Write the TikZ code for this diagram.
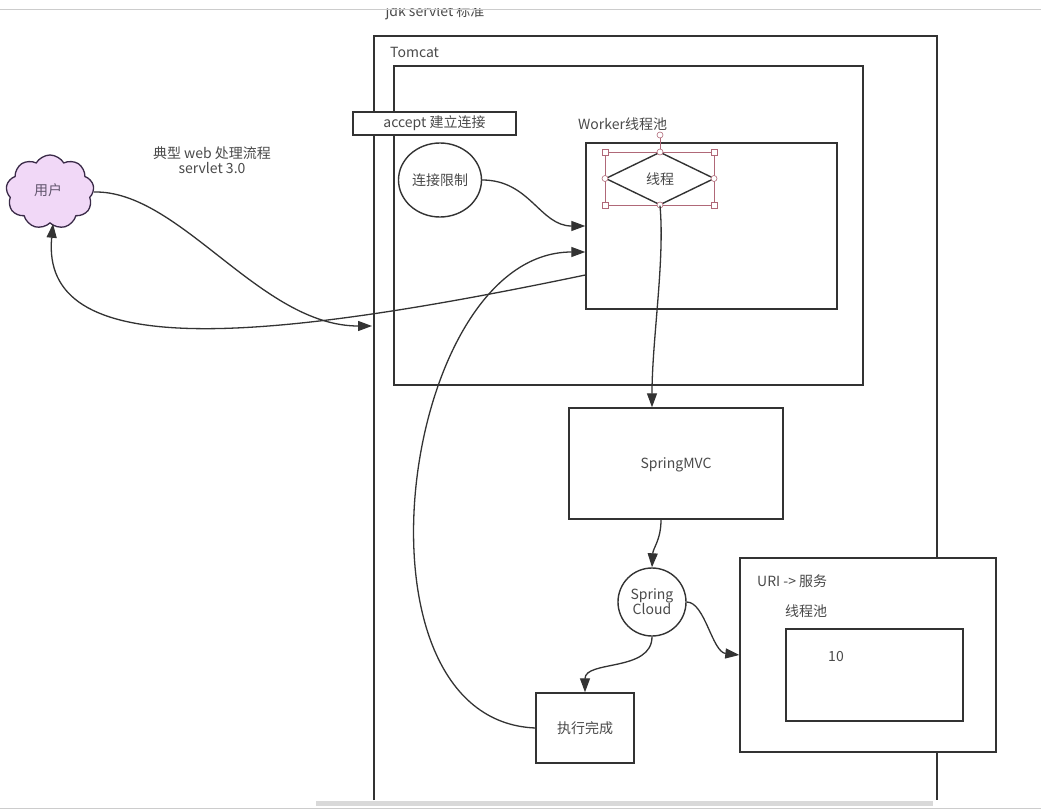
\documentclass[tikz,border=0pt]{standalone}
\usepackage{fontspec}
\setmainfont{Noto Sans CJK SC}
\usetikzlibrary{shapes.geometric,shapes.symbols,arrows.meta}
\definecolor{ln}{HTML}{333333}
\definecolor{tx}{HTML}{4A4A4A}
\definecolor{usr}{HTML}{F1D8F7}
\definecolor{usrb}{HTML}{3A2A48}
\definecolor{sel}{HTML}{B06878}
\tikzset{
  box/.style={draw=ln,line width=1.4pt,fill=white,inner sep=0pt},
  lbl/.style={text=tx,font=\fontsize{14}{16}\selectfont,inner sep=0pt},
  conn/.style={draw=ln,line width=1.3pt,-{Triangle[length=14pt,width=10pt]}},
  plain/.style={draw=ln,line width=1.3pt},
  handle/.style={draw=sel,line width=0.6pt,fill=white}
}
\begin{document}
\begin{tikzpicture}[x=1pt,y=-1pt]
\useasboundingbox (0,0) rectangle (1041,810);
\fill[white] (0,0) rectangle (1041,810);
% top label (partly hidden under toolbar)
\node[lbl,anchor=center] (jdk) at (435,12) {jdk servlet 标准};
\fill[white] (0,0) rectangle (1041,8);
\draw[gray!40,line width=0.8pt] (0,9) -- (1041,9);
% outer jdk servlet frame
\draw[plain] (374,800) -- (374,36) -- (937,36) -- (937,800);
\coordinate (outerL) at (374,326);
\node[lbl,anchor=west] (tomcatlbl) at (390,52) {Tomcat};
% Tomcat box
\node[box,minimum width=469pt,minimum height=319pt] (tomcat) at (628.5,225.5) {};
\node[box,minimum width=163pt,minimum height=23pt] (accept) at (434.5,123.5) {};
\node[lbl] (acceptt) at (434.5,123.5) {accept 建立连接};
\node[draw=ln,line width=1.4pt,ellipse,minimum width=83pt,minimum height=74pt,inner sep=0pt] (limit) at (440,180) {};
\node[lbl] at (440,180) {连接限制};
\node[lbl,anchor=west] (workerlbl) at (578,124) {Worker线程池};
\node[box,minimum width=251pt,minimum height=166pt] (worker) at (711.5,226) {};
% selection frame around diamond
\draw[sel,line width=0.6pt] (605,152) rectangle (714,205);
\draw[sel,line width=0.6pt] (660,135) -- (660,152);
\node[draw=ln,line width=1.4pt,diamond,aspect=2,minimum width=109pt,minimum height=53pt,inner sep=0pt] (thread) at (660,178.5) {};
\node[lbl] at (660,179) {线程};
\foreach \p in {(605,152),(714,152),(605,205),(714,205)}
  \node[handle,rectangle,minimum size=6pt,inner sep=0pt] at \p {};
\foreach \p in {(605,178.5),(714,178.5),(660,152),(660,205),(660,135)}
  \node[handle,circle,minimum size=6pt,inner sep=0pt] at \p {};
% Spring MVC
\node[box,minimum width=214pt,minimum height=111pt] (mvc) at (676,463.5) {};
\node[lbl] at (676,465) {SpringMVC};
% Spring Cloud
\node[draw=ln,line width=1.4pt,circle,minimum size=68pt,inner sep=0pt,fill=white] (cloud) at (652,602) {};
\node[lbl,align=center,font=\fontsize{14}{15}\selectfont] at (652,602) {Spring\\Cloud};
% done
\node[box,minimum width=98pt,minimum height=70pt] (done) at (585,728) {};
\node[lbl] at (585,728) {执行完成};
% URI box
\node[box,minimum width=256pt,minimum height=194pt] (uri) at (868,655) {};
\node[lbl,anchor=west] at (757,581) {URI -> 服务};
\node[lbl,anchor=west] at (785,611) {线程池};
\node[box,minimum width=177pt,minimum height=92pt] (pool) at (874.5,675) {};
\node[lbl] at (836,657) {10};
% user
\node[cloud,cloud puffs=9,cloud puff arc=120,aspect=1.2,draw=usrb,line width=1.3pt,fill=usr,minimum width=88pt,minimum height=74pt,inner sep=0pt] (user) at (50,192) {};
\node[lbl,text=usrb!80] at (48,190) {用户};
\node[lbl,align=center,font=\fontsize{14}{15}\selectfont] (title) at (212,160) {典型 web 处理流程\\servlet 3.0};
% connectors
\draw[conn] (user.east) .. controls (180,190) and (260,326) .. ([xshift=-2pt]outerL);
\draw[conn] ([yshift=-49pt]worker.west) .. controls (250,345) and (40,360) .. ([xshift=3pt]user.south);
\draw[conn] (limit.east) .. controls (530,180) and (540,226) .. (worker.west);
\draw[conn] (done.west) .. controls (340,720) and (400,252) .. ([yshift=-26pt]worker.west);
\draw[conn] (thread.south) .. controls (665,260) and (652,340) .. ([xshift=-24pt]mvc.north);
\draw[conn] ([xshift=-15pt]mvc.south) .. controls (661,540) and (653,548) .. (cloud.north);
\draw[conn] (cloud.east) .. controls (705,602) and (712,652) .. (uri.west);
\draw[conn] (cloud.south) .. controls (652,672) and (585,660) .. (done.north);
% bottom scrollbar
\fill[gray!30] (316,801) rectangle (933,806);
\draw[gray!40,line width=0.6pt] (0,808.5) -- (1041,808.5);
\end{tikzpicture}
\end{document}
